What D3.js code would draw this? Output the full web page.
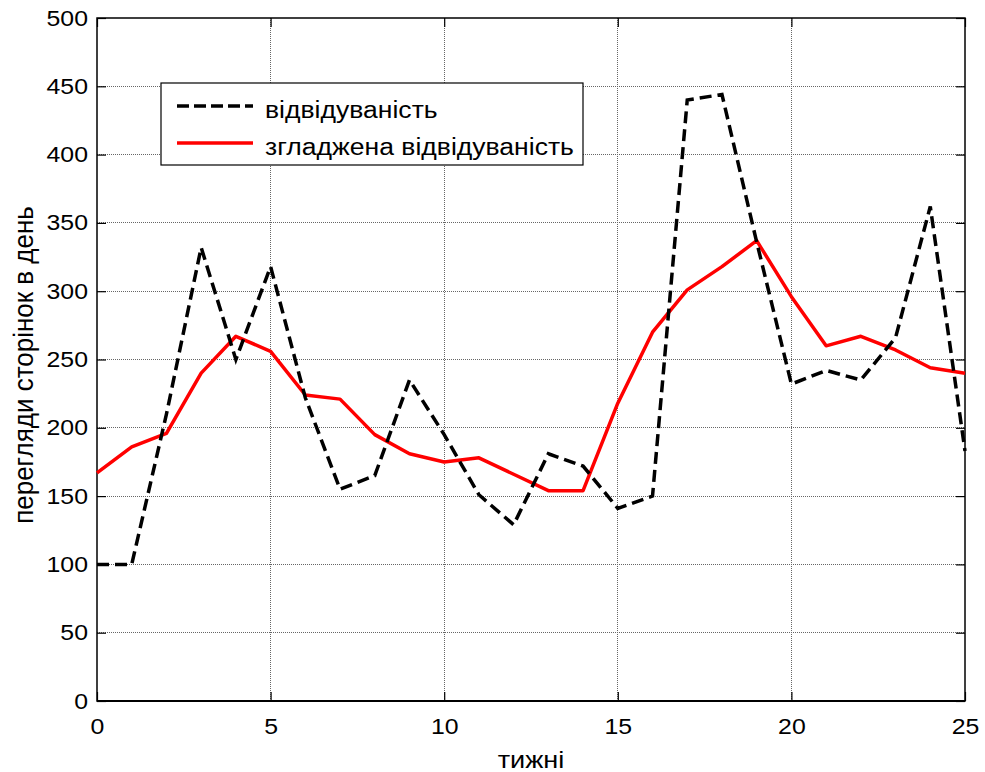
<!DOCTYPE html>
<html>
<head>
<meta charset="utf-8">
<script src="https://cdn.jsdelivr.net/npm/d3@7"></script>
<style>
  body { margin: 0; background: #fff; }
  svg text { font-family: "Liberation Sans", Arial, sans-serif; fill: #000; }
</style>
</head>
<body>
<svg width="985" height="772"></svg>
<script>
// weeks 0..25
const weeks = d3.range(0, 26);
// page views per day (raw)
const visits = [100, 100, 210, 332, 250, 318, 222, 155, 165, 235,
                195, 151, 129, 181, 172, 141, 150, 440, 444, 336,
                232, 242, 235, 266, 362, 183];
// smoothed
const smoothed = [167, 186, 196, 240, 267, 256, 224, 221, 195, 181,
                  175, 178, 166, 154, 154, 218, 270, 301, 318, 337,
                  296, 260, 267, 257, 244, 240];
const xTicks = [0, 5, 10, 15, 20, 25];
const yTicks = d3.range(0, 501, 50);
const legendLabels = ["відвідуваність", "згладжена відвідуваність"];

const svg = d3.select("svg");
const plotL = 97, plotR = 965, plotT = 18, plotB = 701;
const stretch = 1.13;   // the text in the picture is a bit wide

const x = d3.scaleLinear().domain([0, 25]).range([plotL, plotR]);
const y = d3.scaleLinear().domain([0, 500]).range([plotB, plotT]);

// grid
let grid = svg.append("g").attr("class", "grid");
grid.selectAll("line.gx").data(xTicks.slice(1, -1)).enter().append("line")
  .attr("x1", d => x(d)).attr("x2", d => x(d))
  .attr("y1", plotT).attr("y2", plotB)
  .attr("stroke", "#666").attr("stroke-width", 1).attr("stroke-dasharray", "1,1")
  .attr("shape-rendering", "crispEdges");
grid.selectAll("line.gy").data(yTicks.slice(1, -1)).enter().append("line")
  .attr("y1", d => y(d)).attr("y2", d => y(d))
  .attr("x1", plotL).attr("x2", plotR)
  .attr("stroke", "#666").attr("stroke-width", 1).attr("stroke-dasharray", "1,1")
  .attr("shape-rendering", "crispEdges");

// axes (ticks inward, on all four sides)
const tickLen = 9;
svg.append("g").attr("transform", `translate(0,${plotB})`)
  .call(d3.axisBottom(x).tickValues(xTicks).tickSizeInner(-tickLen).tickSizeOuter(0).tickPadding(17))
  .call(g => g.select(".domain").remove())
  .call(g => g.selectAll(".tick text").attr("transform", `scale(${stretch},1)`));
svg.append("g").attr("transform", `translate(0,${plotT})`)
  .call(d3.axisTop(x).tickValues(xTicks).tickSizeInner(-tickLen).tickSizeOuter(0).tickFormat(""))
  .call(g => g.select(".domain").remove());
svg.append("g").attr("transform", `translate(${plotL},0)`)
  .call(d3.axisLeft(y).tickValues(yTicks).tickSizeInner(-tickLen).tickSizeOuter(0).tickPadding(9 / stretch))
  .call(g => g.select(".domain").remove())
  .call(g => g.selectAll(".tick text").attr("transform", `scale(${stretch},1)`));
svg.append("g").attr("transform", `translate(${plotR},0)`)
  .call(d3.axisRight(y).tickValues(yTicks).tickSizeInner(-tickLen).tickSizeOuter(0).tickFormat(""))
  .call(g => g.select(".domain").remove());

svg.selectAll(".tick line").attr("stroke", "#000").attr("stroke-width", 1.2);
svg.selectAll(".tick text")
  .attr("font-family", "Liberation Sans, Arial, sans-serif")
  .attr("font-size", 22).attr("fill", "#000");

// box
svg.append("rect")
  .attr("x", plotL).attr("y", plotT)
  .attr("width", plotR - plotL).attr("height", plotB - plotT)
  .attr("fill", "none").attr("stroke", "#000").attr("stroke-width", 1.5);

// series
const line = d3.line().x((d, i) => x(weeks[i])).y(d => y(d));

svg.append("path").datum(smoothed)
  .attr("d", line).attr("fill", "none")
  .attr("stroke", "#ff0000").attr("stroke-width", 3.5)
  .attr("stroke-linejoin", "round");

svg.append("path").datum(visits)
  .attr("d", line).attr("fill", "none")
  .attr("stroke", "#000").attr("stroke-width", 3.5)
  .attr("stroke-dasharray", "12,6");

// bottom edge on top
svg.append("line")
  .attr("x1", plotL).attr("x2", plotR).attr("y1", plotB).attr("y2", plotB)
  .attr("stroke", "#000").attr("stroke-width", 2);

// legend
let legend = svg.append("g");
legend.append("rect")
  .attr("x", 161).attr("y", 83).attr("width", 422).attr("height", 82)
  .attr("fill", "#fff").attr("stroke", "#000").attr("stroke-width", 1.2);
const legendStyles = [{stroke: "#000", dash: "12,5"}, {stroke: "#ff0000", dash: null}];
legendLabels.forEach((label, i) => {
  const ly = 106 + i * 37;
  legend.append("line")
    .attr("x1", 177).attr("x2", 253).attr("y1", ly).attr("y2", ly)
    .attr("stroke", legendStyles[i].stroke).attr("stroke-width", 3.5)
    .attr("stroke-dasharray", legendStyles[i].dash);
  legend.append("text")
    .attr("transform", `translate(265,${ly + 12}) scale(${stretch},1)`)
    .attr("font-size", 23.5)
    .text(label);
});

// axis labels
svg.append("text")
  .attr("transform", `translate(${(plotL + plotR) / 2},768) scale(${stretch},1)`)
  .attr("text-anchor", "middle").attr("font-size", 24)
  .text("тижні");
svg.append("text")
  .attr("transform", `translate(33,365) scale(1.05,1) rotate(-90)`)
  .attr("text-anchor", "middle").attr("font-size", 26)
  .text("перегляди сторінок в день");
</script>
</body>
</html>
